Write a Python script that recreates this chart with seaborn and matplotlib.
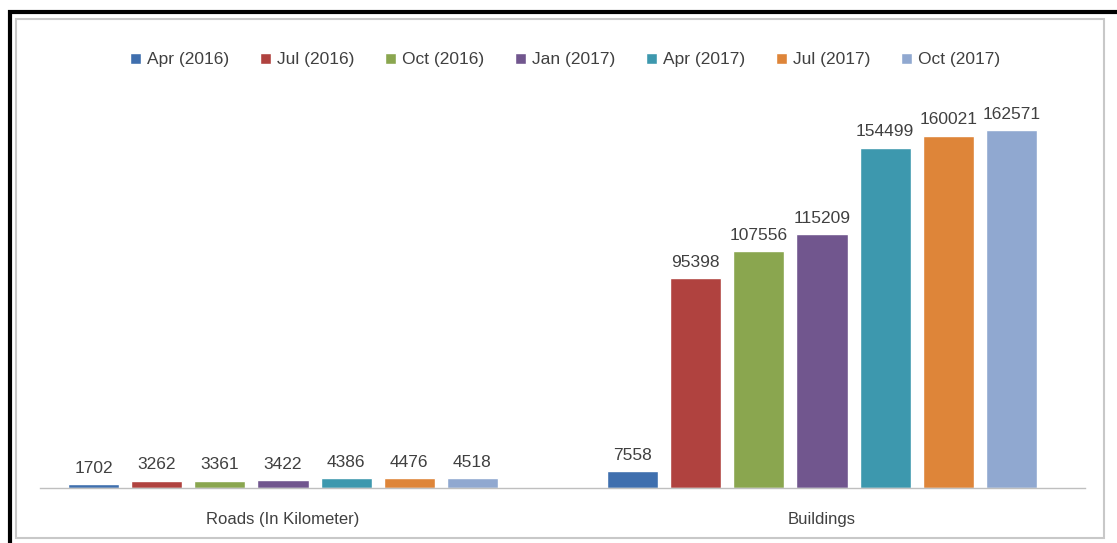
import matplotlib
matplotlib.use("Agg")
import matplotlib.pyplot as plt
import seaborn as sns
import pandas as pd
from matplotlib.patches import Rectangle

categories = ["Roads (In Kilometer)", "Buildings"]
periods = ["Apr (2016)", "Jul (2016)", "Oct (2016)", "Jan (2017)",
           "Apr (2017)", "Jul (2017)", "Oct (2017)"]
roads = [1702, 3262, 3361, 3422, 4386, 4476, 4518]
buildings = [7558, 95398, 107556, 115209, 154499, 160021, 162571]
colors = ["#3F6FAE", "#B0423F", "#8AA64F", "#71568E", "#3D98AE", "#DE8539", "#90A8D0"]

rows = []
for p, r, b in zip(periods, roads, buildings):
    rows.append({"category": categories[0], "period": p, "value": r})
    rows.append({"category": categories[1], "period": p, "value": b})
df = pd.DataFrame(rows)

sns.set_theme(style="white")
plt.rcParams["font.family"] = ["Liberation Sans", "DejaVu Sans"]

fig = plt.figure(figsize=(11.17, 5.43), dpi=100)
W, H = 1117, 543
ax = fig.add_axes([40 / W, 1 - 488 / H, (1085 - 40) / W, (488 - 91.6) / H])

sns.barplot(data=df, x="category", y="value", hue="period", order=categories,
            hue_order=periods, palette=colors, width=0.82, gap=0.19,
            saturation=1, ax=ax, legend=True)

for cont in ax.containers:
    ax.bar_label(cont, fmt="%d", padding=6, fontsize=12.5, color="#404040")

ax.set_ylim(0, 180000)
ax.set_xlim(-0.451, 1.488)
ax.set_xlabel("")
ax.set_ylabel("")
ax.set_yticks([])
for s in ["top", "left", "right"]:
    ax.spines[s].set_visible(False)
ax.spines["bottom"].set_color("#BFBFBF")
ax.spines["bottom"].set_linewidth(1)
ax.tick_params(axis="x", length=0, pad=17, labelsize=12, labelcolor="#404040")

handles, labels = ax.get_legend_handles_labels()
ax.legend_.remove()
fig.legend(handles, labels, loc="center", bbox_to_anchor=(565 / W, 1 - 60 / H),
           ncol=7, frameon=False, fontsize=12.5, handlelength=0.65, handleheight=0.65,
           handletextpad=0.35, columnspacing=1.75, labelcolor="#404040")

# inner gray frame and outer black border
fig.patches.append(Rectangle((15.5 / W, 1 - 538 / H), (1104 - 15.5) / W, (538 - 18.5) / H,
                             transform=fig.transFigure, fill=False,
                             edgecolor="#C8C8C8", linewidth=1.5))
fig.patches.append(Rectangle((10 / W, 1 - 560 / H), (1140 - 10) / W, (560 - 11.5) / H,
                             transform=fig.transFigure, fill=False,
                             edgecolor="black", linewidth=3))

fig.savefig("out.png", dpi=100)
